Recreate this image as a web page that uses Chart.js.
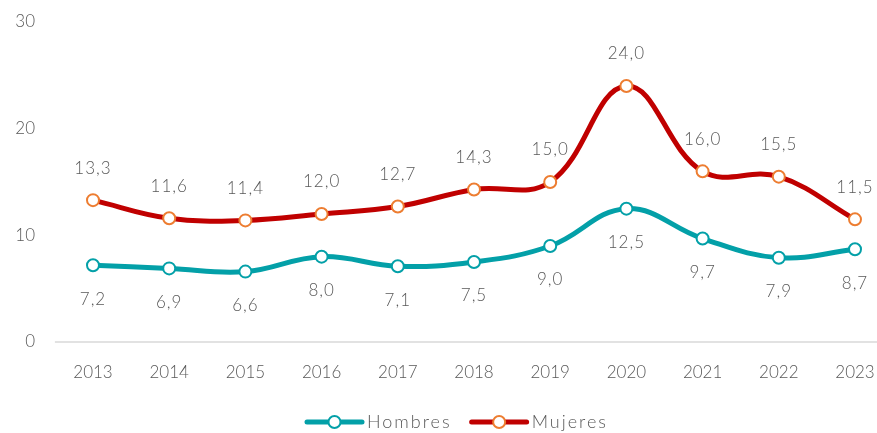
<!DOCTYPE html>
<html>
<head>
<meta charset="utf-8">
<script src="https://cdn.jsdelivr.net/npm/chart.js@4"></script>
<style>
  html, body { margin: 0; padding: 0; background: #ffffff; }
  #wrap { width: 877px; height: 433px; }
</style>
</head>
<body>
<div id="wrap"><canvas id="chart"></canvas></div>
<script>
const years = ['2013', '2014', '2015', '2016', '2017', '2018', '2019', '2020', '2021', '2022', '2023'];
const hombres = [7.2, 6.9, 6.6, 8.0, 7.1, 7.5, 9.0, 12.5, 9.7, 7.9, 8.7];
const mujeres = [13.3, 11.6, 11.4, 12.0, 12.7, 14.3, 15.0, 24.0, 16.0, 15.5, 11.5];
const yTicks = [0, 10, 20, 30];

const FONT = 'Lato, "Open Sans", sans-serif';
const TEXT = '#595959';

// etiquetas de valor con coma decimal
const valueLabels = {
  id: 'valueLabels',
  afterDatasetsDraw(chart) {
    const ctx = chart.ctx;
    ctx.save();
    ctx.font = '300 17px ' + FONT;
    ctx.letterSpacing = '1px';
    ctx.fillStyle = TEXT;
    ctx.textAlign = 'center';
    ctx.textBaseline = 'middle';
    chart.data.datasets.forEach((ds, i) => {
      chart.getDatasetMeta(i).data.forEach((pt, j) => {
        const txt = ds.data[j].toFixed(1).replace('.', ',');
        ctx.fillText(txt, pt.x, pt.y + ds.labelShift);
      });
    });
    ctx.restore();
  }
};

// línea del eje x, extendida media categoría a cada lado
const axisLine = {
  id: 'axisLine',
  beforeDatasetsDraw(chart) {
    const x = chart.scales.x;
    const step = x.getPixelForValue(1) - x.getPixelForValue(0);
    const y = chart.chartArea.bottom;
    const ctx = chart.ctx;
    ctx.save();
    ctx.strokeStyle = '#d9d9d9';
    ctx.lineWidth = 1.5;
    ctx.beginPath();
    ctx.moveTo(x.getPixelForValue(0) - step / 2, y);
    ctx.lineTo(x.getPixelForValue(years.length - 1) + step / 2, y);
    ctx.stroke();
    ctx.restore();
  }
};

// leyenda inferior dibujada a mano
const bottomLegend = {
  id: 'bottomLegend',
  afterDraw(chart) {
    const ctx = chart.ctx;
    const y = 422;
    let x = 307;
    ctx.save();
    ctx.font = '300 18px ' + FONT;
    ctx.letterSpacing = '2px';
    ctx.textBaseline = 'middle';
    chart.data.datasets.forEach(ds => {
      ctx.strokeStyle = ds.borderColor;
      ctx.lineWidth = 5;
      ctx.lineCap = 'round';
      ctx.beginPath();
      ctx.moveTo(x, y);
      ctx.lineTo(x + 55, y);
      ctx.stroke();
      ctx.beginPath();
      ctx.arc(x + 27.5, y, 6, 0, Math.PI * 2);
      ctx.fillStyle = '#ffffff';
      ctx.fill();
      ctx.lineWidth = 2;
      ctx.strokeStyle = ds.pointBorderColor;
      ctx.stroke();
      ctx.fillStyle = TEXT;
      ctx.textAlign = 'left';
      ctx.fillText(ds.label, x + 60, y);
      x += 60 + ctx.measureText(ds.label).width + 20;
    });
    ctx.restore();
  }
};

new Chart(document.getElementById('chart'), {
  type: 'line',
  data: {
    labels: years,
    datasets: [
      {
        label: 'Hombres',
        data: hombres,
        borderColor: '#03a0a8',
        pointBorderColor: '#03a0a8',
        labelShift: 34
      },
      {
        label: 'Mujeres',
        data: mujeres,
        borderColor: '#c00000',
        pointBorderColor: '#ed7d31',
        labelShift: -32
      }
    ]
  },
  options: {
    responsive: true,
    maintainAspectRatio: false,
    animation: false,
    layout: { padding: { top: 22, right: 22, left: 0, bottom: 0 } },
    elements: {
      line: { borderWidth: 5, tension: 0.4 },
      point: { radius: 6, borderWidth: 2, backgroundColor: '#ffffff', hoverRadius: 6 }
    },
    scales: {
      x: {
        offset: false,
        grid: { display: false, drawTicks: false },
        border: { display: false },
        ticks: { color: TEXT, font: { family: FONT, size: 17, weight: 300 }, padding: 20, maxRotation: 0 },
        afterFit: s => { s.height = 91; s.paddingLeft = 0; s.paddingRight = 0; }
      },
      y: {
        min: 0,
        max: 30,
        afterBuildTicks: s => { s.ticks = yTicks.map(v => ({ value: v })); },
        grid: { display: false, drawTicks: false },
        border: { display: false },
        ticks: { color: TEXT, font: { family: FONT, size: 17, weight: 300 }, padding: 58 },
        afterFit: s => { s.width = 93; s.paddingTop = 0; s.paddingBottom = 0; }
      }
    },
    plugins: {
      legend: { display: false },
      tooltip: { enabled: false }
    }
  },
  plugins: [axisLine, valueLabels, bottomLegend]
});
</script>
</body>
</html>
